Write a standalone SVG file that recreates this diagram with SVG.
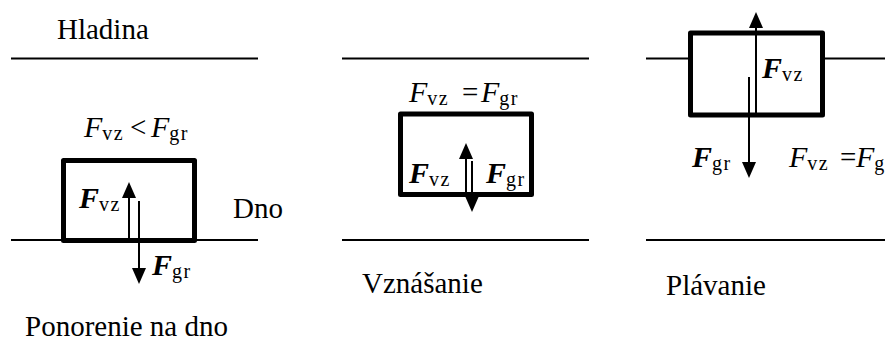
<svg xmlns="http://www.w3.org/2000/svg" width="885" height="341" viewBox="0 0 885 341">
<style>
.t{font-family:"Liberation Serif","Times New Roman",serif;font-size:29px;fill:#000}
.fi{font-style:italic;font-size:30px}
.fb{font-style:italic;font-weight:bold;font-size:30px}
.sub{font-size:20px;font-style:normal;font-weight:normal;letter-spacing:1.5px}
.ln{stroke:#000;stroke-width:2;fill:none}
.box{stroke:#000;stroke-width:5;fill:#fff;stroke-linejoin:round}
.ar{stroke:#000;stroke-width:2;fill:none;marker-end:url(#ah)}
</style>
<defs>
<marker id="ah" markerUnits="userSpaceOnUse" markerWidth="16" markerHeight="14" viewBox="0 0 16 14" refX="6" refY="7" orient="auto">
<path d="M0,0 L16,7 L0,14 z" fill="#000"/>
</marker>
</defs>
<rect width="885" height="341" fill="#fff"/>
<g id="levels">
<line class="ln" x1="11" y1="58.5" x2="258" y2="58.5"/>
<line class="ln" x1="11" y1="240" x2="258" y2="240"/>
<line class="ln" x1="342" y1="58.5" x2="589" y2="58.5"/>
<line class="ln" x1="342" y1="240" x2="589" y2="240"/>
<line class="ln" x1="646" y1="58.5" x2="885" y2="58.5"/>
<line class="ln" x1="646" y1="240" x2="885" y2="240"/>
</g>
<g id="box1"><rect class="box" x="63.5" y="160.5" width="131" height="80"/></g>
<g id="box2"><rect class="box" x="400.5" y="114" width="131" height="80.5"/></g>
<g id="box3"><rect class="box" x="690.5" y="33" width="132" height="82"/></g>
<g id="connectors">
<line class="ar" x1="129" y1="238" x2="129" y2="192"/>
<line class="ar" x1="139" y1="201" x2="139" y2="274"/>
<line class="ar" x1="466" y1="194" x2="466" y2="153"/>
<line class="ar" x1="472" y1="161" x2="472" y2="202"/>
<line class="ar" x1="756" y1="115" x2="756" y2="22"/>
<line class="ar" x1="749" y1="77" x2="749" y2="168"/>
</g>
<g id="labels">
<text class="t" x="57" y="39">Hladina</text>
<text class="t" x="233" y="218">Dno</text>
<text class="t" x="362" y="293">Vznášanie</text>
<text class="t" x="666" y="295">Plávanie</text>
<text class="t" x="25" y="336">Ponorenie na dno</text>
<text class="t" y="137"><tspan class="fi" x="84">F</tspan><tspan class="sub" dy="3">vz</tspan><tspan x="130" dy="-3">&lt;</tspan><tspan class="fi" x="151">F</tspan><tspan class="sub" dy="3">gr</tspan></text>
<text class="t" y="102"><tspan class="fi" x="409">F</tspan><tspan class="sub" dy="3">vz</tspan><tspan x="462" dy="-3">=</tspan><tspan class="fi" x="481">F</tspan><tspan class="sub" dy="3">gr</tspan></text>
<text class="t" y="167"><tspan class="fi" x="789">F</tspan><tspan class="sub" dy="3">vz</tspan><tspan x="840" dy="-3">=</tspan><tspan class="fi" x="856">F</tspan><tspan class="sub" dy="3">gr</tspan></text>
<text class="t" y="208"><tspan class="fb" x="79">F</tspan><tspan class="sub" dy="3">vz</tspan></text>
<text class="t" y="275"><tspan class="fb" x="152">F</tspan><tspan class="sub" dy="3">gr</tspan></text>
<text class="t" y="183"><tspan class="fb" x="409">F</tspan><tspan class="sub" dy="3">vz</tspan></text>
<text class="t" y="183"><tspan class="fb" x="486">F</tspan><tspan class="sub" dy="3">gr</tspan></text>
<text class="t" y="78"><tspan class="fb" x="762">F</tspan><tspan class="sub" dy="3">vz</tspan></text>
<text class="t" y="167"><tspan class="fb" x="692">F</tspan><tspan class="sub" dy="3">gr</tspan></text>
</g>
</svg>
